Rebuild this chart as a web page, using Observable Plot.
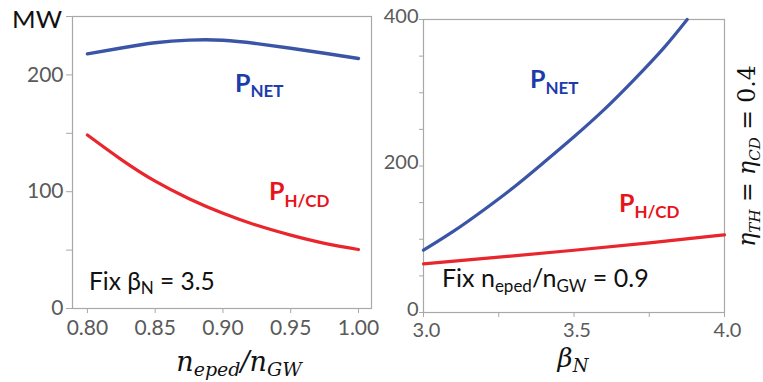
<!DOCTYPE html>
<html>
<head>
<meta charset="utf-8">
<script src="https://cdn.jsdelivr.net/npm/d3@7"></script>
<script src="https://cdn.jsdelivr.net/npm/@observablehq/plot@0.6"></script>
<style>
  html, body { margin: 0; padding: 0; background: #fff; }
  #wrap { position: relative; width: 763px; height: 382px; background: #fff; overflow: hidden; }
  #left { position: absolute; left: 0; top: 0; }
  #right { position: absolute; left: 380px; top: 0; }
  #ann { position: absolute; left: 0; top: 0; pointer-events: none; }
  .sans { font-family: Lato, "Liberation Sans", sans-serif; }
  .math { font-family: "DejaVu Serif", "Liberation Serif", serif; font-style: italic; }
</style>
</head>
<body>
<div id="wrap">
  <div id="left"></div>
  <div id="right"></div>
  <svg id="ann" width="763" height="382">
    <text class="sans" x="12" y="28" font-size="23" fill="#111" textLength="50" lengthAdjust="spacingAndGlyphs">MW</text>

    <text class="sans" x="235" y="92" font-size="25" font-weight="bold" fill="#1d3caa">P<tspan font-size="17" dy="5">NET</tspan></text>
    <text class="sans" x="269" y="200" font-size="25" font-weight="bold" fill="#e8141c">P<tspan font-size="17" dy="7">H/CD</tspan></text>

    <text class="sans" x="530" y="88" font-size="25" font-weight="bold" fill="#1d3caa">P<tspan font-size="17" dy="6">NET</tspan></text>
    <text class="sans" x="619" y="212" font-size="25" font-weight="bold" fill="#e8141c">P<tspan font-size="17" dy="6">H/CD</tspan></text>

    <text class="sans" x="89" y="290" font-size="24.5" fill="#111">Fix β<tspan font-size="17" dy="4">N</tspan><tspan dy="-4"> = 3.5</tspan></text>
    <text class="sans" x="442" y="287" font-size="25" fill="#111">Fix n<tspan font-size="17" dy="5">eped</tspan><tspan dy="-5">/n</tspan><tspan font-size="17" dy="5">GW</tspan><tspan dy="-5"> = 0.9</tspan></text>

    <text class="math" x="239" y="371" font-size="27" fill="#111" text-anchor="middle">n<tspan font-size="19" dy="5">eped</tspan><tspan dy="-5">/n</tspan><tspan font-size="19" dy="5">GW</tspan></text>
    <text class="math" x="573" y="367" font-size="26" fill="#111" text-anchor="middle">β<tspan font-size="18" dy="5">N</tspan></text>

    <text class="math" transform="translate(755,156) rotate(-90)" font-size="23.5" fill="#111" text-anchor="middle">η<tspan font-size="15" dy="5">TH</tspan><tspan dy="-5" font-style="normal"> = </tspan>η<tspan font-size="15" dy="5">CD</tspan><tspan dy="-5" font-style="normal"> = 0.4</tspan></text>
  </svg>
</div>
<script>
// ---- Data ----
const leftX = [0.80, 0.825, 0.85, 0.875, 0.90, 0.925, 0.95, 0.975, 1.00];
const leftPnet = [218, 223, 227.5, 229.8, 229.7, 226.8, 222.8, 218.5, 214];
const leftPhcd = [148.5, 127.5, 109, 94, 81.5, 71.2, 62.8, 55.8, 50.5];

const rightX = [3.0, 3.1, 3.2, 3.3, 3.4, 3.5, 3.6, 3.7, 3.8, 3.876];
const rightPnet = [85, 111, 140, 171, 205, 240, 277, 318, 362, 400];
const rightHX = [3.0, 3.25, 3.5, 3.75, 4.0];
const rightPhcd = [66.5, 75.5, 85, 95, 106];

const leftXTicks = [0.80, 0.85, 0.90, 0.95, 1.00];
const leftYTicks = [0, 50, 100, 150, 200, 250];
const leftYLabels = [0, 100, 200];
const rightXTicks = [3.0, 3.25, 3.5, 3.75, 4.0];
const rightXLabels = [3.0, 3.5, 4.0];
const rightYTicks = [0, 50, 100, 150, 200, 250, 300, 350, 400];
const rightYLabels = [0, 200, 400];

// ---- Styling ----
const BLUE = "#3a55a6";
const RED = "#e8262c";
const TICK = "#a8a8a8";
const LABEL = "#5a5a5a";

const leftNetData = leftX.map((x, i) => ({x, y: leftPnet[i]}));
const leftHcdData = leftX.map((x, i) => ({x, y: leftPhcd[i]}));
const rightNetData = rightX.map((x, i) => ({x, y: rightPnet[i]}));
const rightHcdData = rightHX.map((x, i) => ({x, y: rightPhcd[i]}));

const baseStyle = {fontFamily: "Lato, 'Liberation Sans', sans-serif", fontSize: "21px", color: LABEL, background: "transparent", overflow: "visible"};

const left = Plot.plot({
  width: 380, height: 382,
  marginLeft: 72, marginRight: 9, marginTop: 16, marginBottom: 74,
  style: baseStyle,
  x: {domain: [0.789, 1.0096]},
  y: {domain: [0, 250]},
  marks: [
    Plot.frame({stroke: TICK, strokeWidth: 1.2}),
    Plot.axisX({ticks: leftXTicks, tickFormat: d3.format(".2f"), tickSize: 5, tickPadding: 7, stroke: TICK, fill: LABEL, label: null}),
    Plot.axisY({ticks: leftYTicks, tickFormat: d => leftYLabels.includes(d) ? String(d) : "", tickSize: 6, tickPadding: 3, stroke: TICK, fill: LABEL, label: null}),
    Plot.line(leftNetData, {x: "x", y: "y", stroke: BLUE, strokeWidth: 3.4, curve: "natural"}),
    Plot.line(leftHcdData, {x: "x", y: "y", stroke: RED, strokeWidth: 3.2, curve: "natural"})
  ]
});
document.getElementById("left").appendChild(left);

const right = Plot.plot({
  width: 383, height: 382,
  marginLeft: 43, marginRight: 39, marginTop: 19, marginBottom: 70,
  style: {...baseStyle, fontSize: "20px"},
  x: {domain: [3.0, 4.0]},
  y: {domain: [0, 400]},
  marks: [
    Plot.frame({stroke: TICK, strokeWidth: 1.2}),
    // tick marks
    Plot.axisX({ticks: rightXTicks, tickFormat: () => "", tickSize: 5, stroke: TICK, label: null}),
    Plot.axisY({ticks: rightYTicks, tickFormat: () => "", tickSize: 4, stroke: TICK, label: null}),
    // tick labels
    Plot.axisX({ticks: rightXLabels, tickFormat: d3.format(".1f"), tickSize: 0, tickPadding: 10, dx: 3, fill: LABEL, label: null}),
    Plot.axisY({ticks: rightYLabels, tickFormat: d => String(d), tickSize: 0, tickPadding: 5, dy: -3, fill: LABEL, label: null}),
    Plot.line(rightNetData, {x: "x", y: "y", stroke: BLUE, strokeWidth: 3.2, curve: "natural"}),
    Plot.line(rightHcdData, {x: "x", y: "y", stroke: RED, strokeWidth: 3.2, curve: "natural"})
  ]
});
document.getElementById("right").appendChild(right);
</script>
</body>
</html>
